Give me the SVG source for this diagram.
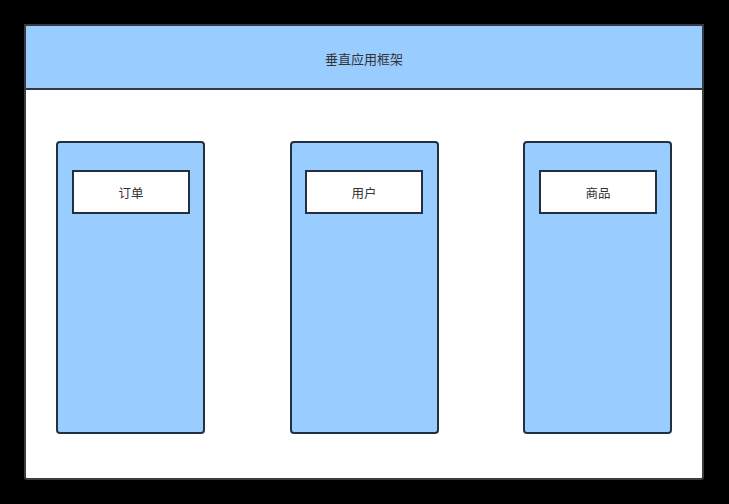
<svg xmlns="http://www.w3.org/2000/svg" width="729" height="504" viewBox="0 0 729 504">
<style>
.frame{fill:#ffffff;stroke:#3c3f43;stroke-width:2}
.head{fill:#99ccff;stroke:#36393d;stroke-width:2}
.col{fill:#99ccff;stroke:#23303f;stroke-width:2}
.box{fill:#ffffff;stroke:#23303f;stroke-width:2}
.t{font-family:"Noto Sans CJK SC","Liberation Sans",sans-serif;font-size:12.5px;fill:#333333;text-anchor:middle;dominant-baseline:central}
.h{font-size:13px}
</style>
<rect x="0" y="0" width="729" height="504" fill="#000000"/>
<g id="frame">
<rect class="frame" x="25" y="25" width="678" height="454" rx="2"/>
<rect class="head" x="25" y="25" width="678" height="64"/>
<text class="t h" x="364" y="58">垂直应用框架</text>
</g>
<g id="col-order">
<rect class="col" x="57" y="142" width="147" height="291" rx="3"/>
</g>
<g id="order">
<rect class="box" x="73" y="171" width="116" height="42"/>
<text class="t" x="131" y="192">订单</text>
</g>
<g id="col-user">
<rect class="col" x="291" y="142" width="147" height="291" rx="3"/>
</g>
<g id="user">
<rect class="box" x="306" y="171" width="116" height="42"/>
<text class="t" x="364" y="192">用户</text>
</g>
<g id="col-goods">
<rect class="col" x="524" y="142" width="147" height="291" rx="3"/>
</g>
<g id="goods">
<rect class="box" x="540" y="171" width="116" height="42"/>
<text class="t" x="598" y="192">商品</text>
</g>
<g id="connectors"></g>
</svg>
